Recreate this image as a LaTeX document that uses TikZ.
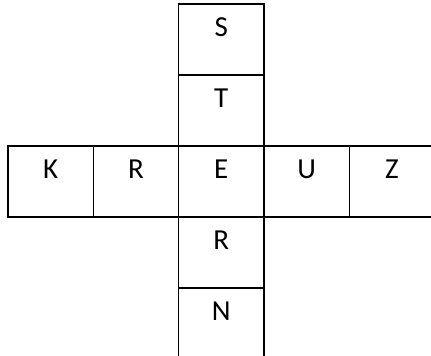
\documentclass[tikz,border=0pt]{standalone}
\usepackage{fontspec}
\setmainfont{Carlito}
\usetikzlibrary{positioning}
\tikzset{
  cell/.style={draw=black,line width=1.4pt,outer sep=0pt,inner sep=0pt,
    minimum width=85.3pt,minimum height=71pt,text height=32pt,text depth=39pt,
    font=\fontsize{29}{32}\selectfont},
}
\begin{document}
\begin{tikzpicture}[x=1pt,y=-1pt]
\clip (0,0) rectangle (431,356);
% horizontal word
\node[cell,anchor=north west] (h0) at (8,146) {K};
\foreach \i/\lab [count=\j from 0] in {1/R,2/E,3/U,4/Z}{
  \node[cell,right=0pt of h\j] (h\i) {\lab};
}
% vertical word
\node[cell,above=0pt of h2] (v1) {T};
\node[cell,above=0pt of v1] (v0) {S};
\node[cell,below=0pt of h2] (v3) {R};
\node[cell,below=0pt of v3] (v4) {N};
\end{tikzpicture}
\end{document}
